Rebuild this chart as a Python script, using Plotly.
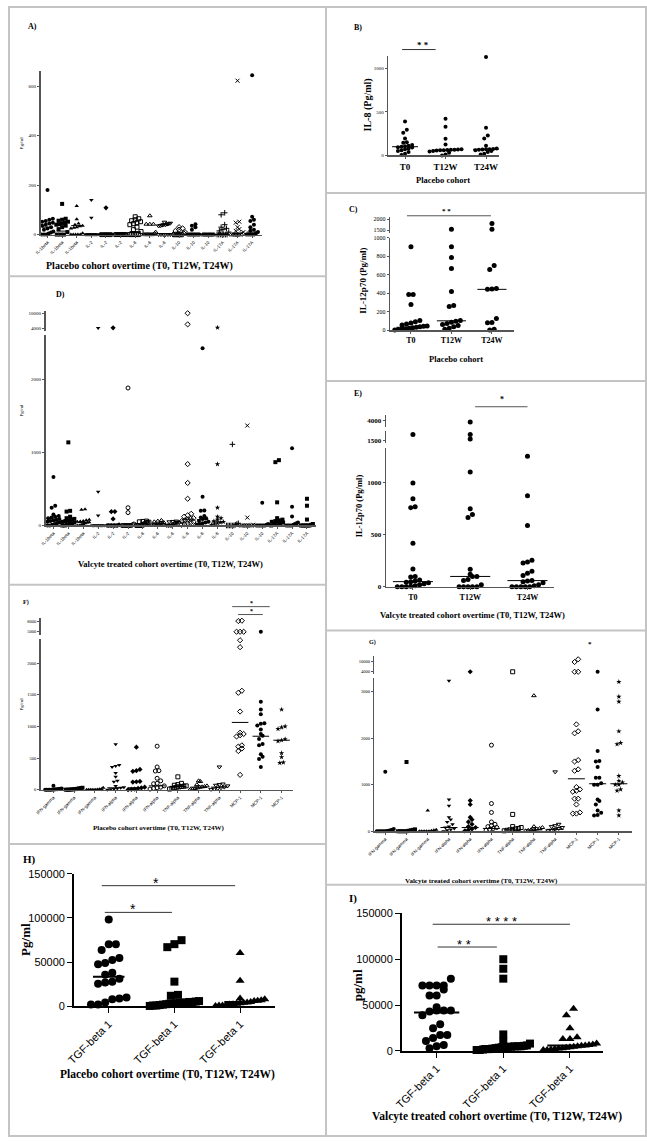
import plotly.graph_objects as go

W, H = 647, 1143
SERIF = "Liberation Serif"
SANS = "Liberation Sans"

# ======================= DATA =======================
# A) Placebo cohort, interleukins (T0, T12W, T24W per cytokine)
A_cats = ["IL-1beta"] * 3 + ["IL-2"] * 3 + ["IL-6"] * 3 + ["IL-10"] * 3 + ["IL-17A"] * 3
A_vals = [
    [180, 64, 60, 55, 52, 48, 45, 40, 36, 30, 25, 20, 12, 8, 4, 0, 0, 0],
    [124, 64, 60, 56, 52, 48, 45, 42, 40, 36, 30, 22, 10, 0, 0, 0],
    [116, 62, 45, 40, 36, 34, 30, 28, 25, 5, 0, 0, 0, 0, 0],
    [140, 68, 0, 0, 0, 0, 0, 0, 0, 0, 0, 0, 0, 0, 0],
    [108, 0, 0, 0, 0, 0, 0, 0, 0, 0, 0, 0, 0, 0, 0],
    [0, 0, 0, 0, 0, 0, 0, 0, 0, 0, 0, 0, 0, 0, 0],
    [72, 64, 60, 56, 52, 48, 44, 40, 30, 20, 12, 0, 0, 0, 0, 0],
    [76, 42, 42, 42, 10, 5, 0, 0, 0, 0, 0, 0, 0, 0, 0],
    [50, 46, 44, 42, 40, 40, 38, 36, 35, 0, 0, 0, 0, 0, 0],
    [30, 25, 20, 15, 10, 5, 0, 0, 0, 0, 0, 0, 0, 0, 0],
    [42, 36, 30, 20, 0, 0, 0, 0, 0, 0, 0, 0, 0, 0, 0],
    [0, 0, 0, 0, 0, 0, 0, 0, 0, 0, 0, 0, 0, 0, 0],
    [88, 80, 40, 30, 25, 20, 15, 10, 0, 0, 0, 0, 0, 0, 0],
    [622, 52, 48, 30, 22, 15, 10, 5, 0, 0, 0, 0, 0, 0, 0],
    [644, 72, 60, 55, 40, 30, 20, 15, 10, 5, 0, 0, 0, 0, 0],
]
A_med = [30, 14, 36, 0, 0, 0, 12, 0, 40, 0, 0, 0, 5, 5, 10]

# B) Placebo IL-8
B_cats = ["T0", "T12W", "T24W"]
B_vals = [
    [390, 295, 260, 195, 150, 145, 120, 110, 105, 100, 95, 90, 80, 70, 60, 50, 40, 20, 5],
    [420, 330, 190, 125, 70, 68, 66, 64, 62, 60, 58, 55, 50, 45, 30, 10, 0],
    [1130, 318, 228, 193, 110, 80, 75, 72, 70, 68, 65, 60, 50, 40, 20, 10],
]
B_med = [100, 60, 70]

# C) Placebo IL-12p70
C_cats = ["T0", "T12W", "T24W"]
C_vals = [
    [900, 383, 383, 275, 102, 90, 75, 65, 55, 45, 40, 35, 30, 25, 20, 15, 10, 5, 0],
    [1550, 900, 784, 665, 416, 265, 255, 102, 95, 85, 70, 60, 50, 35, 20, 10],
    [1800, 1550, 697, 654, 448, 445, 442, 124, 81, 78, 10, 0],
]
C_med = [30, 100, 440]

# D) Valcyte cohort, interleukins
D_cats = (["IL-1beta"] * 3 + ["IL-2"] * 3 + ["IL-6"] * 3 + ["IL-8"] * 3
          + ["IL-10"] * 3 + ["IL-17A"] * 3)
D_vals = [
    [662, 270, 243, 150, 130, 120, 110, 100, 90, 80, 70, 60, 50, 40, 30, 20, 10, 0, 0],
    [1135, 200, 190, 120, 100, 90, 80, 70, 60, 50, 40, 30, 20, 10, 0, 0],
    [220, 215, 80, 70, 60, 55, 50, 45, 40, 30, 20, 10, 0, 0],
    [4000, 459, 135, 0, 0, 0, 0, 0, 0, 0, 0, 0, 0],
    [4100, 190, 188, 90, 10, 0, 0, 0, 0, 0, 0, 0, 0],
    [1878, 243, 176, 20, 10, 0, 0, 0, 0, 0, 0, 0, 0],
    [60, 55, 50, 45, 40, 30, 20, 10, 0, 0, 0, 0],
    [70, 60, 50, 40, 35, 30, 20, 10, 0, 0, 0, 0],
    [60, 55, 50, 45, 40, 30, 20, 0, 0, 0, 0],
    [10000, 5500, 838, 581, 365, 160, 140, 120, 100, 90, 80, 70, 60, 50, 40, 30, 20, 10],
    [2419, 392, 203, 200, 130, 110, 100, 90, 60, 50, 40, 30, 20, 10],
    [4200, 838, 243, 120, 100, 80, 60, 50, 40, 30, 20, 10],
    [1108, 30, 20, 10, 0, 0, 0, 0, 0, 0],
    [1365, 108, 10, 0, 0, 0, 0, 0, 0, 0],
    [311, 20, 10, 0, 0, 0, 0, 0, 0, 0],
    [892, 865, 316, 100, 80, 70, 60, 50, 40, 30, 20, 10, 0],
    [1054, 257, 122, 40, 30, 20, 10, 0, 0, 0, 0, 0],
    [365, 270, 81, 20, 10, 0, 0, 0, 0, 0, 0],
]
D_med = [60, 50, 40, 0, 0, 0, 20, 25, 20, 85, 80, 50, 0, 0, 0, 40, 10, 0]

# E) Valcyte IL-12p70
E_cats = ["T0", "T12W", "T24W"]
E_vals = [
    [1700, 1000, 848, 770, 762, 419, 171, 100, 95, 65, 55, 50, 45, 40, 30, 20, 10, 5, 0, 0, 0],
    [3900, 1700, 1550, 1105, 752, 695, 667, 170, 120, 100, 100, 70, 60, 20, 0, 0, 0, 0, 0],
    [1257, 876, 590, 257, 240, 229, 150, 130, 110, 60, 55, 50, 40, 20, 10, 0, 0, 0, 0, 0],
]
E_med = [50, 100, 60]

# F) Placebo cohort IFN / TNF / MCP-1
F_cats = ["IFN-gamma"] * 3 + ["IFN-alpha"] * 3 + ["TNF-alpha"] * 3 + ["MCP-1"] * 3
F_vals = [
    [62, 20, 15, 10, 8, 5, 3, 2, 0, 0, 0, 0, 0],
    [30, 25, 20, 15, 10, 8, 5, 3, 0, 0, 0],
    [30, 10, 5, 3, 0, 0, 0, 0, 0, 0],
    [718, 390, 375, 360, 265, 203, 140, 125, 60, 40, 30, 20, 10, 5, 0],
    [672, 320, 300, 290, 130, 125, 120, 40, 30, 20, 10, 5, 0],
    [687, 359, 300, 295, 180, 140, 100, 94, 60, 40, 30, 20, 10],
    [203, 100, 80, 70, 60, 55, 50, 45, 40, 30, 20, 10],
    [140, 130, 80, 60, 50, 45, 40, 30, 20, 10, 5],
    [359, 90, 80, 70, 60, 40, 30, 20, 10, 5],
    [8000, 8100, 5000, 5000, 5000, 2360, 2250, 1562, 1530, 1234, 900, 880, 860, 840, 700,
     680, 650, 610, 234],
    [5000, 1390, 1266, 1190, 1050, 1040, 1015, 950, 880, 850, 800, 720, 700, 560, 520, 484, 359],
    [1266, 1000, 984, 960, 800, 780, 766, 578, 515, 430, 422],
]
F_med = [0, 0, 0, 30, 30, 60, 50, 40, 40, 1062, 844, 781]

# G) Valcyte cohort IFN / TNF / MCP-1
G_cats = F_cats
G_vals = [
    [1277, 50, 30, 20, 10, 5, 0, 0, 0, 0, 0, 0],
    [1489, 40, 30, 20, 10, 0, 0, 0, 0, 0],
    [447, 30, 20, 10, 0, 0, 0, 0, 0],
    [3234, 680, 550, 300, 250, 200, 150, 100, 80, 60, 40, 20, 0],
    [4000, 660, 575, 300, 250, 200, 150, 100, 80, 50, 30, 10],
    [1851, 596, 404, 200, 150, 120, 100, 80, 60, 40, 20],
    [4000, 362, 100, 80, 60, 50, 40, 30, 20, 10],
    [2915, 100, 80, 60, 50, 40, 30, 20, 10],
    [1277, 150, 120, 100, 80, 60, 40, 20, 10],
    [11000, 9500, 4000, 4000, 2298, 2150, 2106, 1530, 1500, 1330, 1300, 950, 900, 870, 850,
     700, 700, 575, 404, 380, 380],
    [4000, 2617, 1723, 1510, 1500, 1383, 1149, 1149, 1030, 1000, 1000, 680, 650, 574, 447,
     400, 350, 340],
    [3213, 2894, 2787, 2149, 1872, 1900, 1191, 1085, 1050, 1000, 1000, 900, 872, 447, 340],
]
G_med = [10, 10, 5, 80, 80, 60, 30, 30, 40, 1128, 1021, 1021]

# H) Placebo TGF-beta 1
H_cats = ["TGF-beta 1"] * 3
H_vals = [
    [98400, 70400, 70400, 63700, 54800, 52500, 49200, 47600, 38000, 35700, 31300, 28000,
     27000, 25700, 10000, 9000, 8000, 4500, 2000, 2000],
    [74900, 70400, 67000, 28000, 13000, 12000, 6000, 5500, 5000, 5000, 4500, 4000, 4000,
     3500, 3000, 3000, 2500, 2000, 1500, 1000, 1000, 500],
    [60400, 29000, 9000, 8000, 7000, 6500, 6000, 5000, 4500, 4000, 3500, 3000, 2500, 2000,
     1500, 1000, 1000, 500],
]
H_med = [33500, 5000, 5000]

# I) Valcyte TGF-beta 1
I_cats = ["TGF-beta 1"] * 3
I_vals = [
    [78800, 71300, 71300, 71300, 71300, 67000, 60500, 60500, 47500, 44000, 44000, 44000,
     43000, 38900, 29200, 24800, 17300, 17300, 14000, 10800, 6500, 5000, 3000],
    [100000, 89600, 78800, 18000, 10000, 8000, 6000, 5500, 5000, 5000, 5000, 4500, 4500,
     4000, 4000, 3500, 3000, 2500, 2000, 2000, 1500, 1000, 1000],
    [46000, 38900, 24800, 15000, 13000, 13000, 8000, 7000, 6500, 6000, 5500, 5000, 4500,
     4000, 3500, 3000, 2500, 2000, 1500, 1000, 1000],
]
I_med = [42000, 5000, 6000]

SYM15 = ['circle', 'square', 'triangle-up', 'triangle-down', 'diamond', 'circle-open',
         'square-open', 'triangle-up-open', 'triangle-down-open', 'diamond-open', 'circle',
         'star', 'cross', 'x', 'circle']
SYM18 = ['circle', 'square', 'triangle-up', 'triangle-down', 'diamond', 'circle-open',
         'square-open', 'triangle-up-open', 'triangle-down-open', 'diamond-open', 'circle',
         'star', 'cross', 'x', 'circle', 'square', 'circle', 'square']
SYM12 = ['circle', 'square', 'triangle-up', 'triangle-down', 'diamond', 'circle-open',
         'square-open', 'triangle-up-open', 'triangle-down-open', 'diamond-open', 'circle',
         'star']
SYM3 = ['circle', 'square', 'triangle-up']

# ======================= BUILD =======================
layout = dict(width=W, height=H, margin=dict(l=0, r=0, t=0, b=0), autosize=False,
              paper_bgcolor='white', plot_bgcolor='rgba(0,0,0,0)', showlegend=False,
              shapes=[], annotations=[])
traces = []
axn = [0]


def new_axes(xd, yd, xr, yr, xo, yo):
    axn[0] += 1
    n = axn[0]
    sx = '' if n == 1 else str(n)
    layout['xaxis' + sx] = dict(domain=[xd[0] / W, xd[1] / W], range=xr, anchor='y' + sx,
                                fixedrange=True, **xo)
    layout['yaxis' + sx] = dict(domain=[1 - yd[1] / H, 1 - yd[0] / H], range=yr,
                                anchor='x' + sx, fixedrange=True, **yo)
    return 'x' + sx, 'y' + sx


def swarm(vals, bin_v, dx, maxw):
    offs = [0.0] * len(vals)
    if not vals:
        return offs
    order = sorted(range(len(vals)), key=lambda i: vals[i])
    groups, cur = [], [order[0]]
    for i in order[1:]:
        if vals[i] - vals[cur[0]] < bin_v:
            cur.append(i)
        else:
            groups.append(cur)
            cur = [i]
    groups.append(cur)
    for g in groups:
        n = len(g)
        step = dx if n <= 1 else min(dx, maxw / (n - 1))
        for k, i in enumerate(g):
            offs[i] = (k - (n - 1) / 2) * step
    return offs


def panel(cats, vals, meds, syms, msize, xpx, c0, s, segs, tickfont, xtickfont, tickangle,
          axcolor='#555', axw=1.5, ticklen=2, medw=0.38, maxw=0.8, bold_ticks=False,
          bold_x=False, medlw=1):
    xr = [(xpx[0] - c0) / s, (xpx[1] - c0) / s]
    refs = []
    for k, sg in enumerate(segs):
        tt = sg.get('tt', [str(v) for v in sg['tv']])
        if bold_ticks:
            tt = ['<b>%s</b>' % t if t else '' for t in tt]
        if k == 0:
            xt = ['<b>%s</b>' % c for c in cats] if bold_x else cats
            xo = dict(showline=True, linecolor=axcolor, linewidth=axw, ticks='outside',
                      ticklen=ticklen, tickwidth=1, tickcolor=axcolor,
                      tickvals=list(range(len(cats))), ticktext=xt, tickangle=tickangle,
                      tickfont=xtickfont, showgrid=False, zeroline=False)
        else:
            xo = dict(visible=False)
        yo = dict(showline=True, linecolor=axcolor, linewidth=axw, ticks='outside',
                  ticklen=ticklen, tickwidth=1, tickcolor=axcolor, tickvals=sg['tv'],
                  ticktext=tt, tickfont=tickfont, showgrid=False, zeroline=False)
        refs.append(new_axes(xpx, sg['dom'], xr, sg['range'], xo, yo))

    def seg_of(v):
        if v <= segs[0]['range'][1]:
            return 0
        best = 1
        for k in range(1, len(segs)):
            lo, hi = segs[k]['range']
            if lo <= v <= hi:
                return k
            best = k
        return best

    for i, col in enumerate(vals):
        sym = syms[i]
        openm = sym.endswith('-open') or sym in ('cross', 'x')
        for k, sg in enumerate(segs):
            sel = [v for v in col if seg_of(v) == k]
            if not sel:
                continue
            lo, hi = sg['range']
            ppu = (sg['dom'][1] - sg['dom'][0]) / (hi - lo)
            offs = swarm(sel, msize * 0.9 / ppu, msize * 0.9 / s, maxw)
            xs = [i + o for o in offs]
            sym_use = sym + '-thin-open' if sym in ('cross', 'x') else sym
            traces.append(go.Scatter(
                x=xs, y=sel, mode='markers', xaxis=refs[k][0], yaxis=refs[k][1],
                cliponaxis=False, hoverinfo='skip',
                marker=dict(symbol=sym_use, size=msize, color='black',
                            line=dict(color='black', width=1 if openm else 0))))
    mx, my = [], []
    for i, m in enumerate(meds):
        mx += [i - medw, i + medw, None]
        my += [m, m, None]
    traces.append(go.Scatter(x=mx, y=my, mode='lines', xaxis=refs[0][0], yaxis=refs[0][1],
                             cliponaxis=False, hoverinfo='skip',
                             line=dict(color='black', width=medlw)))
    return refs


def text(x, y, s, size, bold=True, family=SERIF, angle=0, color='black'):
    layout['annotations'].append(dict(
        x=x / W, y=1 - y / H, xref='paper', yref='paper',
        text=('<b>%s</b>' % s) if bold else s, showarrow=False,
        font=dict(size=size, family=family, color=color), textangle=angle,
        xanchor='center', yanchor='middle'))


def hline(x0, x1, y, color='black', width=1):
    layout['shapes'].append(dict(type='line', xref='paper', yref='paper', x0=x0 / W,
                                 x1=x1 / W, y0=1 - y / H, y1=1 - y / H,
                                 line=dict(color=color, width=width)))


def vline(x, y0, y1, color, width):
    layout['shapes'].append(dict(type='line', xref='paper', yref='paper', x0=x / W, x1=x / W,
                                 y0=1 - y0 / H, y1=1 - y1 / H,
                                 line=dict(color=color, width=width)))


tiny = dict(family=SERIF, size=5, color='black')
tinyx = dict(family=SANS, size=4.5, color='black')

# ---- A ----
panel(A_cats, A_vals, A_med, SYM15, 4, (33, 257), 40, 14.8,
      [dict(dom=(66, 231), range=[0, 660], tv=[0, 200, 400, 600]),
       dict(dom=(46, 62), range=[780, 1020], tv=[800, 1000])],
      tiny, tinyx, -45)
text(25, 21, 'A)', 8)
text(14, 138, 'Pg/ml', 5, bold=False, angle=-90)
text(133, 263, 'Placebo cohort overtime (T0, T12W, T24W)', 10)

# ---- B ----
panel(B_cats, B_vals, B_med, ['circle'] * 3, 4, (385, 497), 402, 41,
      [dict(dom=(51, 151), range=[0, 1136], tv=[0, 500, 1000]),
       dict(dom=(30, 45), range=[5000, 11000], tv=[6000, 10000], tt=['', '10000'])],
      tiny, dict(family=SERIF, size=9, color='black'), 0, bold_x=True, medw=0.32)
text(354, 22, 'B)', 8)
text(364, 100, 'IL-8 (Pg/ml)', 10, angle=-90)
text(440, 176, 'Placebo cohort', 8.5)
hline(399, 433, 44, '#333', 1)
text(420, 39, '* *', 9)

# ---- C ----
panel(C_cats, C_vals, C_med, ['circle'] * 3, 5, (387, 512), 408, 41,
      [dict(dom=(234, 327.5), range=[0, 1000], tv=[0, 200, 400, 600, 800, 1000]),
       dict(dom=(213, 229), range=[1400, 2100], tv=[1500, 2000])],
      dict(family=SERIF, size=6, color='black'), dict(family=SERIF, size=8, color='black'), 0,
      bold_x=True, medw=0.36)
text(350, 206, 'C)', 8)
text(360, 278, 'IL-12p70 (Pg/ml)', 9, angle=-90)
text(454, 357, 'Placebo cohort', 8.5)
hline(404, 489, 212, '#555', 1)
text(444, 207, '* *', 7)

# ---- D ----
panel(D_cats, D_vals, D_med, SYM18, 4, (38, 312), 46, 15.1,
      [dict(dom=(332, 525), range=[0, 2608], tv=[0, 1000, 2000]),
       dict(dom=(308, 328), range=[3000, 11000], tv=[4000, 10000])],
      tiny, tinyx, -45)
text(53, 292, 'D)', 8)
text(14, 408, 'Pg/ml', 5, bold=False, angle=-90)
text(165, 564, 'Valcyte treated cohort overtime (T0, T12W, T24W)', 8.5)

# ---- E ----
panel(E_cats, E_vals, E_med, ['circle'] * 3, 5, (383, 553), 410, 58,
      [dict(dom=(447, 587), range=[0, 1333], tv=[0, 500, 1000]),
       dict(dom=(430, 442), range=[1400, 1800], tv=[1500]),
       dict(dom=(413, 425), range=[3600, 4400], tv=[4000])],
      dict(family=SERIF, size=7, color='black'), dict(family=SERIF, size=8, color='black'), 0,
      bold_ticks=True, bold_x=True, medw=0.35)
text(354, 392, 'E)', 8)
text(355, 505, 'IL-12p70 (Pg/ml)', 8.5, angle=-90)
text(470, 615, 'Valcyte treated cohort overtime (T0, T12W, T24W)', 8.5)
hline(473, 526, 405, '#555', 1)
text(500, 398, '*', 8)

# ---- F ----
panel(F_cats, F_vals, F_med, SYM12, 4, (33, 289), 46, 21,
      [dict(dom=(640, 792), range=[0, 2375], tv=[0, 500, 1000, 1500, 2000]),
       dict(dom=(618, 636), range=[4000, 9000], tv=[5000, 8000])],
      dict(family=SERIF, size=4.5, color='black'), tinyx, -45, medw=0.4)
text(18, 603, 'F)', 6)
text(14, 705, 'Pg/ml', 5, bold=False, angle=-90)
text(152, 831, 'Placebo cohort overtime (T0, T12W, T24W)', 7)
hline(227, 265, 607, '#555', 1)
text(247, 603, '*', 6)
hline(233, 258, 615, '#555', 1)
text(247, 611, '*', 6)

# ---- G ----
panel(G_cats, G_vals, G_med, SYM12, 4, (371, 632), 382, 21.5,
      [dict(dom=(679, 834), range=[0, 3298], tv=[0, 1000, 2000, 3000]),
       dict(dom=(657, 675), range=[2800, 12800], tv=[4000, 10000])],
      dict(family=SERIF, size=4.5, color='black'), tinyx, -45, medw=0.4)
text(369, 643, 'G)', 6)
text(589, 645, '*', 7)
text(479, 884, 'Valcyte treated cohort overtime (T0, T12W, T24W)', 7)

# ---- H ----
big = dict(family=SANS, size=11, color='black')
panel(H_cats, H_vals, H_med, SYM3, 8, (67, 270), 102, 66.5,
      [dict(dom=(877, 1011), range=[0, 150000], tv=[0, 50000, 100000, 150000])],
      big, big, -45, axcolor='black', axw=2, ticklen=5, medw=0.24, maxw=0.75, medlw=2)
text(22, 863, 'H)', 11)
text(17, 943, 'Pg/ml', 13, angle=-90)
text(162, 1080, 'Placebo cohort overtime (T0, T12W, T24W)', 11.5)
hline(95, 230, 889, '#333', 1)
text(150, 886, '*', 14, bold=False, family=SANS)
hline(98, 166, 916, '#333', 1)
text(127, 913, '*', 14, bold=False, family=SANS)

# ---- I ----
panel(I_cats, I_vals, I_med, SYM3, 8, (399, 602), 434, 67.5,
      [dict(dom=(917, 1056), range=[0, 150000], tv=[0, 50000, 100000, 150000])],
      big, big, -45, axcolor='black', axw=2, ticklen=5, medw=0.34, maxw=0.8, medlw=2)
text(349, 902, 'I)', 11)
text(354, 990, 'pg/ml', 13, angle=-90)
text(495, 1122, 'Valcyte treated cohort overtime (T0, T12W, T24W)', 11.5)
hline(430, 569, 928, '#333', 1)
text(500, 925, '* * * *', 13, bold=False, family=SANS)
hline(435, 495, 951, '#333', 1)
text(462, 948, '* *', 13, bold=False, family=SANS)

# ---- panel borders ----
BC = '#c4c4c4'
layout['shapes'].append(dict(type='rect', xref='paper', yref='paper', x0=1 / W, x1=1 - 1 / W,
                             y0=1 / H, y1=1 - 1 / H, line=dict(color=BC, width=2)))
vline(322, 0, H, BC, 2)
for yb in (273, 585, 847):
    hline(0, 322, yb, BC, 2)
for yb in (189, 379, 631, 888):
    hline(322, W, yb, BC, 2)

fig = go.Figure(data=traces, layout=layout)
fig.write_html("out.html", config={'displayModeBar': False, 'staticPlot': True},
               post_script="document.body.style.margin='0';document.body.style.overflow='hidden';")
